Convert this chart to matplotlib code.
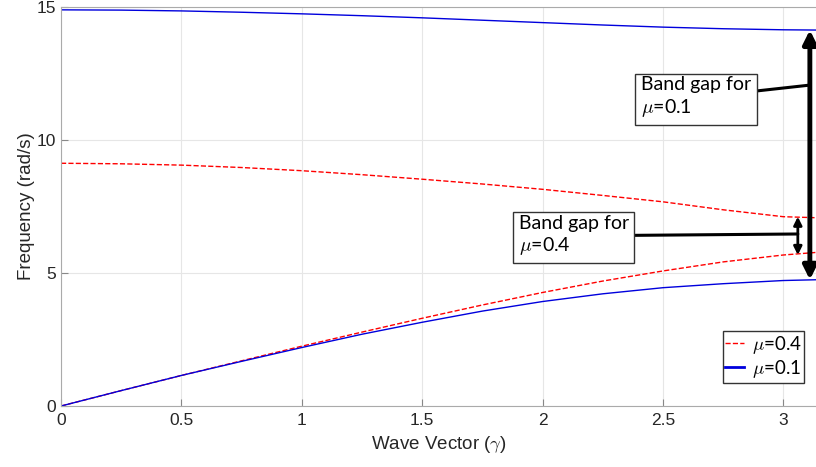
import numpy as np
import matplotlib
matplotlib.use("Agg")
import matplotlib.pyplot as plt

# Dispersion data
gamma = [0, 0.25, 0.5, 0.75, 1.0, 1.25, 1.5, 1.75, 2.0, 2.25, 2.5, 2.75, 3.0, 3.1416]
opt_01 = [14.9, 14.89, 14.86, 14.81, 14.75, 14.68, 14.6, 14.51, 14.42, 14.33, 14.25, 14.19, 14.15, 14.14]
ac_01 = [0, 0.58, 1.15, 1.68, 2.2, 2.7, 3.15, 3.57, 3.93, 4.22, 4.45, 4.6, 4.72, 4.75]
opt_04 = [9.13, 9.11, 9.06, 8.97, 8.85, 8.7, 8.53, 8.35, 8.15, 7.92, 7.68, 7.38, 7.12, 7.08]
ac_04 = [0, 0.58, 1.15, 1.7, 2.25, 2.78, 3.3, 3.8, 4.27, 4.7, 5.08, 5.42, 5.68, 5.78]

plt.rcParams['font.family'] = ['Liberation Sans', 'DejaVu Sans']
plt.rcParams['mathtext.fontset'] = 'cm'

fig = plt.figure(figsize=(8.16, 4.67), dpi=100)
ax = fig.add_axes([0.0748, 0.1306, 0.927, 0.854])

ax.plot(gamma, ac_04, '--', color='red', lw=1, label=r'$\mu$=0.4')
ax.plot(gamma, opt_04, '--', color='red', lw=1)
ax.plot(gamma, ac_01, '-', color='#0000dd', lw=1, label=r'$\mu$=0.1')
ax.plot(gamma, opt_01, '-', color='#0000dd', lw=1)

ax.set_xlim(0, np.pi)
ax.set_ylim(0, 15)
ax.set_xticks([0, 0.5, 1, 1.5, 2, 2.5, 3])
ax.set_xticklabels(['0', '0.5', '1', '1.5', '2', '2.5', '3'])
ax.set_yticks([0, 5, 10, 15])
ax.tick_params(direction='in', length=5, color='#888888', labelsize=12.5, labelcolor='#262626')
ax.tick_params(axis='x', pad=5)
ax.grid(True, color='#e6e6e6', lw=0.8)
for s in ax.spines.values():
    s.set_color('#aaaaaa')
ax.set_xlabel(r'Wave Vector ($\gamma$)', fontsize=13.5, color='#262626', labelpad=4)
ax.set_ylabel('Frequency (rad/s)', fontsize=13.5, color='#262626', labelpad=1)

# band gap arrows
x_big = 3.11
x_small = 3.06
ax.annotate('', xy=(x_big, opt_01[-1]), xytext=(x_big, ac_01[-1]),
            arrowprops=dict(arrowstyle='<|-|>', color='black', lw=3.5, mutation_scale=20, shrinkA=0, shrinkB=0))
ax.annotate('', xy=(x_small, opt_04[-2]), xytext=(x_small, ac_04[-2]),
            arrowprops=dict(arrowstyle='<|-|>', color='black', lw=2, mutation_scale=12, shrinkA=0, shrinkB=0))

box = dict(boxstyle='square,pad=0.3', fc='white', ec='#333333', lw=1)
ax.annotate('Band gap for\n' + r'$\mu$=0.1', xy=(x_big, 12.07), xytext=(2.41, 11.6),
            fontsize=14, family=['Lato', 'DejaVu Sans'], linespacing=1.2, va='center', ha='left', bbox=box,
            arrowprops=dict(arrowstyle='-', color='black', lw=2.2, shrinkA=0, shrinkB=0))
ax.annotate('Band gap for\n' + r'$\mu$=0.4', xy=(x_small, 6.47), xytext=(1.9, 6.4),
            fontsize=14, family=['Lato', 'DejaVu Sans'], linespacing=1.2, va='center', ha='left', bbox=box,
            arrowprops=dict(arrowstyle='-', color='black', lw=2.2, shrinkA=0, shrinkB=0))

leg = ax.legend(loc='lower right', bbox_to_anchor=(0.995, 0.035),
                prop={'family': ['Lato', 'DejaVu Sans'], 'size': 13.5},
                handlelength=1.0, handletextpad=0.4, borderpad=0.15, labelspacing=0.1,
                fancybox=False, framealpha=1, edgecolor='#333333')
leg.get_frame().set_linewidth(1)
leg.get_lines()[1].set_linewidth(2)

fig.savefig('out.png', dpi=100)
